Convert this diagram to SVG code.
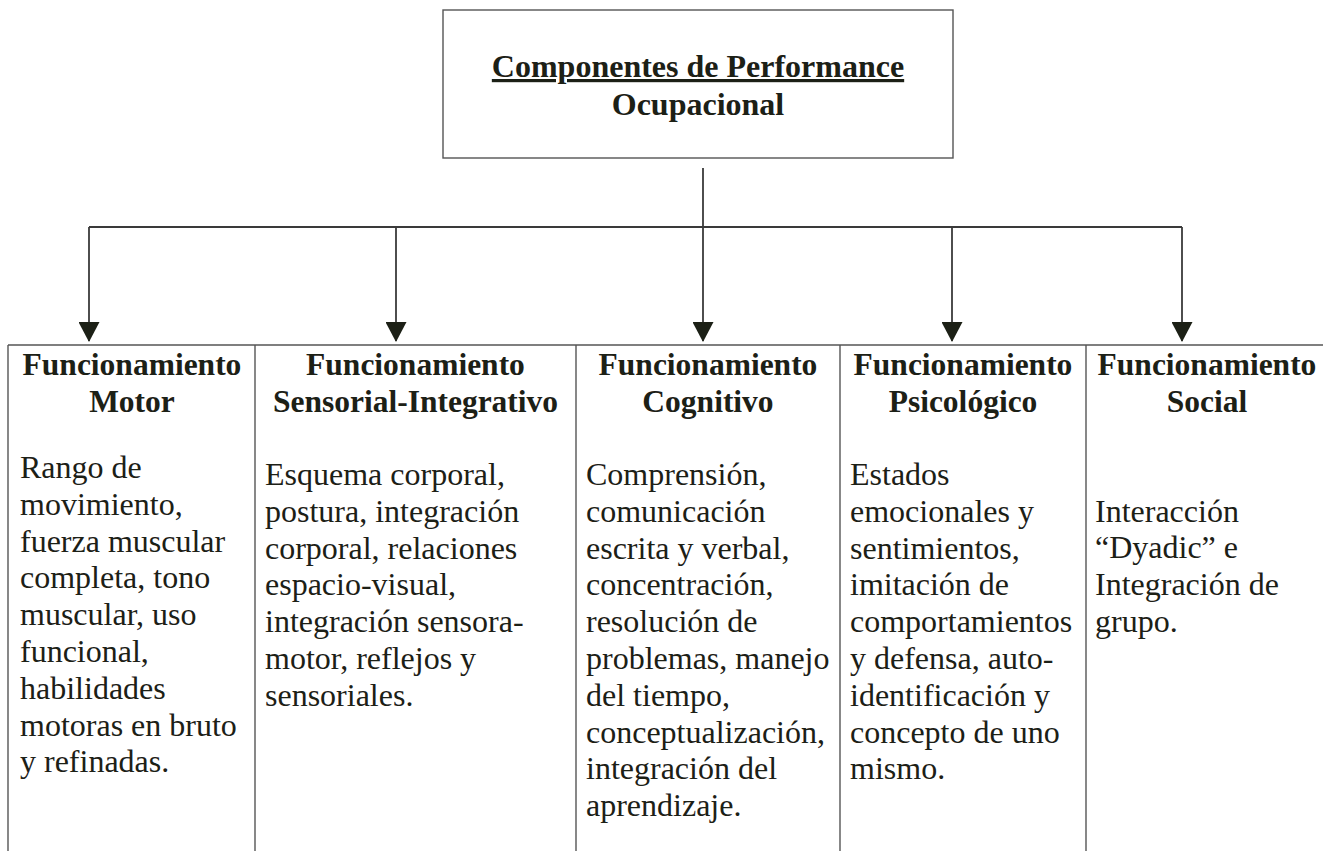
<svg xmlns="http://www.w3.org/2000/svg" width="1323" height="851" viewBox="0 0 1323 851">
<defs>
<style>
.t{font-family:"Liberation Serif","Times New Roman",serif;fill:#1c2016;}
.h{font-size:31.5px;font-weight:bold;text-anchor:middle;}
.b{font-size:32px;}
.ln{stroke:#3a3a3a;stroke-width:1.8;fill:none;}
.arr{marker-end:url(#ah);}
.cell{stroke:#555;stroke-width:1.4;fill:none;}
</style>
<marker id="ah" markerWidth="20" markerHeight="21" refX="19" refY="10.5" orient="auto" markerUnits="userSpaceOnUse" viewBox="0 0 20 21">
<path d="M0,0 L20,10.5 L0,21 Z" fill="#1c2016"/>
</marker>
</defs>
<rect width="1323" height="851" fill="#fff"/>
<g id="root">
<rect x="443" y="10" width="510" height="148" class="cell"/>
<text class="t" x="698" y="77" font-size="32" font-weight="bold" text-anchor="middle" text-decoration="underline">Componentes de Performance</text>
<text class="t" x="698" y="115" font-size="32" font-weight="bold" text-anchor="middle">Ocupacional</text>
</g>
<g id="connectors">
<line class="ln" x1="703" y1="168" x2="703" y2="227"/>
<line class="ln" x1="89" y1="227" x2="1182" y2="227"/>
<line class="ln arr" x1="89" y1="227" x2="89" y2="341"/>
<line class="ln arr" x1="396" y1="227" x2="396" y2="341"/>
<line class="ln arr" x1="703" y1="227" x2="703" y2="341"/>
<line class="ln arr" x1="952" y1="227" x2="952" y2="341"/>
<line class="ln arr" x1="1182" y1="227" x2="1182" y2="341"/>
</g>
<g id="table-frame">
<line class="cell" x1="8" y1="345" x2="1323" y2="345"/>
<line class="cell" x1="8" y1="345" x2="8" y2="851"/>
<line class="cell" x1="255" y1="345" x2="255" y2="851"/>
<line class="cell" x1="576" y1="345" x2="576" y2="851"/>
<line class="cell" x1="840" y1="345" x2="840" y2="851"/>
<line class="cell" x1="1086" y1="345" x2="1086" y2="851"/>
</g>
<g id="motor">
<text class="t h" x="132" y="375">Funcionamiento</text>
<text class="t h" x="132" y="412">Motor</text>
<text class="t b">
<tspan x="20" y="478">Rango de</tspan>
<tspan x="20" y="515">movimiento,</tspan>
<tspan x="20" y="552">fuerza muscular</tspan>
<tspan x="20" y="588">completa, tono</tspan>
<tspan x="20" y="625">muscular, uso</tspan>
<tspan x="20" y="662">funcional,</tspan>
<tspan x="20" y="699">habilidades</tspan>
<tspan x="20" y="736">motoras en bruto</tspan>
<tspan x="20" y="772">y refinadas.</tspan>
</text>
</g>
<g id="sensorial">
<text class="t h" x="415.5" y="375">Funcionamiento</text>
<text class="t h" x="415.5" y="412">Sensorial-Integrativo</text>
<text class="t b">
<tspan x="265" y="485">Esquema corporal,</tspan>
<tspan x="265" y="522">postura, integración</tspan>
<tspan x="265" y="559">corporal, relaciones</tspan>
<tspan x="265" y="595">espacio-visual,</tspan>
<tspan x="265" y="632">integración sensora-</tspan>
<tspan x="265" y="669">motor, reflejos y</tspan>
<tspan x="265" y="706">sensoriales.</tspan>
</text>
</g>
<g id="cognitivo">
<text class="t h" x="708" y="375">Funcionamiento</text>
<text class="t h" x="708" y="412">Cognitivo</text>
<text class="t b">
<tspan x="586" y="485">Comprensión,</tspan>
<tspan x="586" y="522">comunicación</tspan>
<tspan x="586" y="559">escrita y verbal,</tspan>
<tspan x="586" y="595">concentración,</tspan>
<tspan x="586" y="632">resolución de</tspan>
<tspan x="586" y="669">problemas, manejo</tspan>
<tspan x="586" y="706">del tiempo,</tspan>
<tspan x="586" y="743">conceptualización,</tspan>
<tspan x="586" y="779">integración del</tspan>
<tspan x="586" y="816">aprendizaje.</tspan>
</text>
</g>
<g id="psicologico">
<text class="t h" x="963" y="375">Funcionamiento</text>
<text class="t h" x="963" y="412">Psicológico</text>
<text class="t b">
<tspan x="850" y="485">Estados</tspan>
<tspan x="850" y="522">emocionales y</tspan>
<tspan x="850" y="559">sentimientos,</tspan>
<tspan x="850" y="595">imitación de</tspan>
<tspan x="850" y="632">comportamientos</tspan>
<tspan x="850" y="669">y defensa, auto-</tspan>
<tspan x="850" y="706">identificación y</tspan>
<tspan x="850" y="743">concepto de uno</tspan>
<tspan x="850" y="779">mismo.</tspan>
</text>
</g>
<g id="social">
<text class="t h" x="1207" y="375">Funcionamiento</text>
<text class="t h" x="1207" y="412">Social</text>
<text class="t b">
<tspan x="1095" y="522">Interacción</tspan>
<tspan x="1095" y="558">“Dyadic” e</tspan>
<tspan x="1095" y="595">Integración de</tspan>
<tspan x="1095" y="632">grupo.</tspan>
</text>
</g>
</svg>
